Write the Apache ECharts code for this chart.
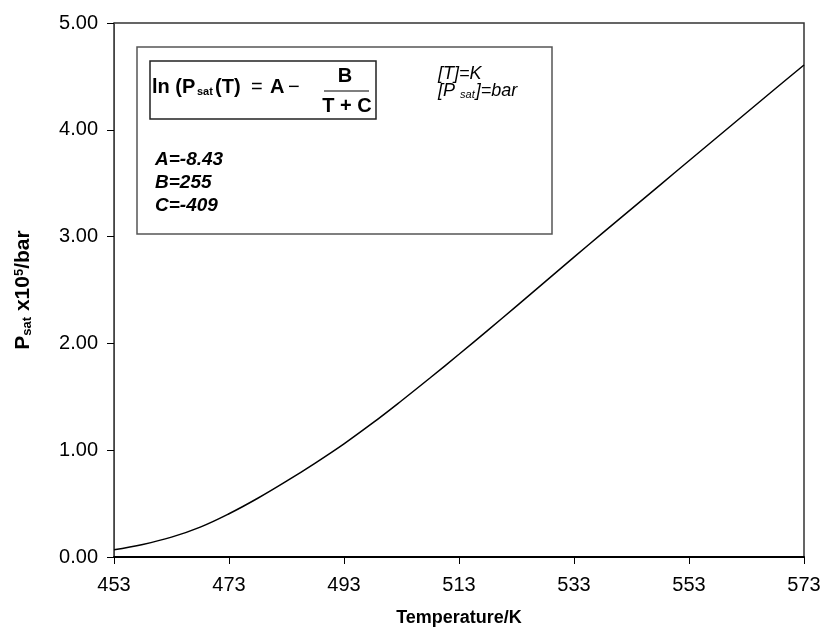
<!DOCTYPE html>
<html>
<head>
<meta charset="utf-8">
<script src="https://cdn.jsdelivr.net/npm/echarts@6/dist/echarts.min.js"></script>
<style>
  html, body { margin: 0; padding: 0; background: #fff; }
  #chart { width: 824px; height: 633px; }
</style>
</head>
<body>
<div id="chart"></div>
<script>
// Saturation pressure curve, T in K, P_sat in units of 10^5 bar
const temperatures = [453, 458, 463, 468, 473, 478, 483, 488, 493, 498, 503, 508, 513,
                      518, 523, 528, 533, 538, 543, 548, 553, 558, 563, 568, 573];
const pressures = [0.068, 0.118, 0.186, 0.28, 0.405, 0.55, 0.71, 0.88, 1.06, 1.255, 1.463, 1.678, 1.898,
                   2.122, 2.349, 2.578, 2.808, 3.035, 3.26, 3.485, 3.71, 3.935, 4.16, 4.384, 4.607];
const temperatureTicks = [453, 473, 493, 513, 533, 553, 573];
const coefficientLines = ['A=-8.43', 'B=255', 'C=-409'];

const FONT = '"Liberation Sans", Arial, Helvetica, sans-serif';
const chart = echarts.init(document.getElementById('chart'), null, { renderer: 'canvas' });

const curve = temperatures.map((t, i) => [t, pressures[i]]);

// Annotation panel with the Antoine-type equation and its constants
const panel = [
  { type: 'rect', z: 10, shape: { x: 137, y: 47, width: 415, height: 187 },
    style: { fill: '#fff', stroke: '#555', lineWidth: 1.5 } },
  { type: 'rect', z: 11, shape: { x: 150, y: 61, width: 226, height: 58 },
    style: { fill: 'none', stroke: '#222', lineWidth: 1.5 } },
  { type: 'text', z: 12, x: 152, y: 87,
    style: { text: 'ln (P', font: 'bold 20px ' + FONT, fill: '#000', align: 'left', verticalAlign: 'middle' } },
  { type: 'text', z: 12, x: 197, y: 92,
    style: { text: 'sat', font: 'bold 11px ' + FONT, fill: '#000', align: 'left', verticalAlign: 'middle' } },
  { type: 'text', z: 12, x: 215, y: 87,
    style: { text: '(T)', font: 'bold 20px ' + FONT, fill: '#000', align: 'left', verticalAlign: 'middle' } },
  { type: 'text', z: 12, x: 251, y: 87,
    style: { text: '=', font: '20px ' + FONT, fill: '#000', align: 'left', verticalAlign: 'middle' } },
  { type: 'text', z: 12, x: 270, y: 87,
    style: { text: 'A', font: 'bold 20px ' + FONT, fill: '#000', align: 'left', verticalAlign: 'middle' } },
  { type: 'text', z: 12, x: 288, y: 87,
    style: { text: '\u2212', font: '20px ' + FONT, fill: '#000', align: 'left', verticalAlign: 'middle' } },
  { type: 'text', z: 12, x: 345, y: 76,
    style: { text: 'B', font: 'bold 20px ' + FONT, fill: '#000', align: 'center', verticalAlign: 'middle' } },
  { type: 'line', z: 12, shape: { x1: 324, y1: 91, x2: 369, y2: 91 },
    style: { stroke: '#000', lineWidth: 1.2 } },
  { type: 'text', z: 12, x: 347, y: 106,
    style: { text: 'T + C', font: 'bold 20px ' + FONT, fill: '#000', align: 'center', verticalAlign: 'middle' } },
  { type: 'text', z: 12, x: 438, y: 74,
    style: { text: '[T]=K', font: 'italic 18px ' + FONT, fill: '#000', align: 'left', verticalAlign: 'middle' } },
  { type: 'text', z: 12, x: 438, y: 91,
    style: {
      text: '{m|[P }{s|sat}{m|]=bar}', font: 'italic 18px ' + FONT, fill: '#000', align: 'left', verticalAlign: 'middle',
      rich: {
        m: { font: 'italic 18px ' + FONT, fill: '#000' },
        s: { font: 'italic 11px ' + FONT, fill: '#000', verticalAlign: 'bottom', padding: [0, 1, 0, 0] }
      }
    } }
];
coefficientLines.forEach((line, i) => {
  panel.push({ type: 'text', z: 12, x: 155, y: 160 + i * 23,
    style: { text: line, font: 'italic bold 19px ' + FONT, fill: '#000', align: 'left', verticalAlign: 'middle' } });
});

chart.setOption({
  animation: false,
  backgroundColor: '#fff',
  grid: {
    left: 114, right: 20, top: 23, bottom: 76,
    show: true, borderColor: '#333', borderWidth: 1.5,
    containLabel: false, outerBoundsMode: 'none'
  },
  xAxis: {
    type: 'value',
    min: 453, max: 573,
    name: 'Temperature/K',
    nameLocation: 'middle',
    nameGap: 52,
    nameTextStyle: { fontFamily: FONT, fontWeight: 'bold', fontSize: 18, color: '#000' },
    axisLine: { show: true, onZero: false, lineStyle: { color: '#000', width: 2 } },
    axisTick: { show: true, inside: false, length: 7, customValues: temperatureTicks,
                lineStyle: { color: '#000', width: 1 } },
    axisLabel: { show: true, margin: 18, customValues: temperatureTicks,
                 fontFamily: FONT, fontSize: 20, color: '#000' },
    splitLine: { show: false }
  },
  yAxis: {
    type: 'value',
    min: 0, max: 5, interval: 1,
    name: '{b|P}{s|sat}{b| x10}{p|5}{b|/bar}',
    nameLocation: 'middle',
    nameRotate: 90,
    nameGap: 80,
    nameTextStyle: {
      fontFamily: FONT, fontWeight: 'bold', fontSize: 21, color: '#000',
      rich: {
        b: { fontFamily: FONT, fontWeight: 'bold', fontSize: 21, color: '#000' },
        s: { fontFamily: FONT, fontWeight: 'bold', fontSize: 13, color: '#000', verticalAlign: 'bottom' },
        p: { fontFamily: FONT, fontWeight: 'bold', fontSize: 13, color: '#000', verticalAlign: 'top' }
      }
    },
    axisLine: { show: true, onZero: false, lineStyle: { color: '#444', width: 1 } },
    axisTick: { show: true, inside: false, length: 7, lineStyle: { color: '#000', width: 1 } },
    axisLabel: { show: true, margin: 16, fontFamily: FONT, fontSize: 20, color: '#000',
                 formatter: v => v.toFixed(2) },
    splitLine: { show: false }
  },
  series: [{
    type: 'line',
    data: curve,
    smooth: 0.4,
    showSymbol: false,
    lineStyle: { color: '#000', width: 1.5 },
    z: 5
  }],
  graphic: panel
});
</script>
</body>
</html>
